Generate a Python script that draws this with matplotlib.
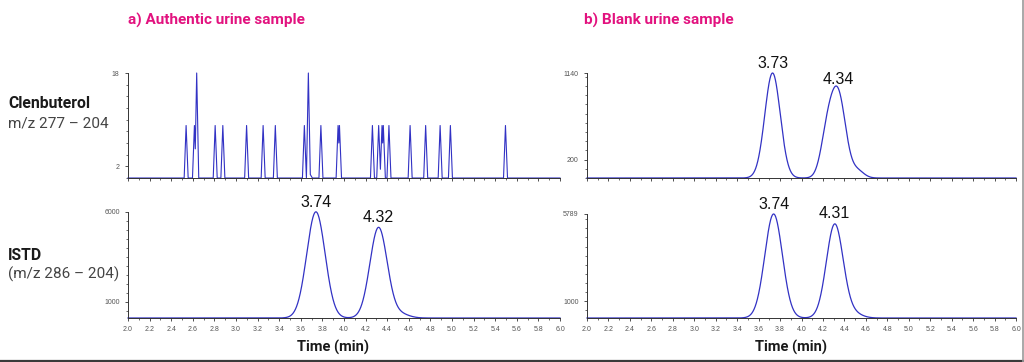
import numpy as np
import matplotlib.pyplot as plt
from matplotlib.ticker import MultipleLocator, FixedLocator
from matplotlib.lines import Line2D

# --- data ---
# a) authentic sample, clenbuterol transition: isolated noise spikes
spike_rt = [2.538, 2.615, 2.636, 2.807, 2.878, 3.098, 3.251, 3.364, 3.633,
            3.670, 3.688, 3.786, 3.945, 3.958, 4.263, 4.321, 4.352, 4.364,
            4.416, 4.612, 4.756, 4.890, 4.985, 5.495]
spike_height = [9, 9, 18, 9, 9, 9, 9, 9, 9,
                18, 0.6, 9, 9, 9, 9, 9, 9, 9,
                9, 9, 9, 9, 9, 9]

# a) authentic sample, ISTD
a_istd_rt = [3.74, 4.32, 4.52]
a_istd_height = [5900, 5030, 220]
a_istd_sigma = [0.085, 0.080, 0.08]
a_istd_base = 110

# b) blank sample, clenbuterol
b_clen_rt = [3.73, 4.24, 4.345, 4.52]
b_clen_height = [1140, 450, 870, 80]
b_clen_sigma = [0.072, 0.06, 0.068, 0.06]
b_clen_base = 0

# b) blank sample, ISTD
b_istd_rt = [3.74, 4.31, 4.48]
b_istd_height = [5720, 5150, 250]
b_istd_sigma = [0.082, 0.078, 0.08]
b_istd_base = 70

labels_a = [("3.74", 3.74, 6000), ("4.32", 4.32, 5140)]
labels_b_top = [("3.73", 3.73, 1140), ("4.34", 4.34, 963)]
labels_b_bot = [("3.74", 3.74, 5789), ("4.31", 4.31, 5278)]

t = np.linspace(2.0, 6.0, 4001)


def gauss_sum(rts, heights, sigmas, base):
    y = np.full_like(t, float(base))
    for c, h, s in zip(rts, heights, sigmas):
        y += h * np.exp(-0.5 * ((t - c) / s) ** 2)
    return y


def spikes(rts, heights, w=0.018):
    y = np.zeros_like(t)
    for c, h in zip(rts, heights):
        y = np.maximum(y, h * np.clip(1 - np.abs(t - c) / w, 0, None))
    return y


line_color = '#3232c4'
tick_color = '#555555'
magenta = '#e2127f'
narrow = ['Roboto', 'DejaVu Sans']

fig = plt.figure(figsize=(10.24, 3.62), dpi=100)
W, H = 1024.0, 362.0


def make_ax(x0, x1, ytop, ybot):
    ax = fig.add_axes([x0 / W, 1 - ybot / H, (x1 - x0) / W, (ybot - ytop) / H])
    ax.spines['top'].set_visible(False)
    ax.spines['right'].set_visible(False)
    for s in ('left', 'bottom'):
        ax.spines[s].set_linewidth(0.7)
        ax.spines[s].set_color('#333333')
    ax.set_xlim(2.0, 6.0)
    ax.xaxis.set_major_locator(MultipleLocator(0.2))
    ax.xaxis.set_minor_locator(MultipleLocator(0.1))
    ax.tick_params(which='major', length=2, width=0.6, colors='#333333',
                   labelsize=5, labelcolor=tick_color, pad=4)
    ax.tick_params(which='minor', length=1.2, width=0.5, colors='#333333')
    return ax


ax1 = make_ax(128, 560, 73, 178)
ax2 = make_ax(128, 560, 212, 318)
ax3 = make_ax(587, 1016, 73, 178)
ax4 = make_ax(587, 1016, 214, 318)

ax1.plot(t, spikes(spike_rt, spike_height), color=line_color, lw=0.8, clip_on=False)
ax1.set_ylim(0, 18)
ax1.yaxis.set_major_locator(FixedLocator([2, 18]))
ax1.yaxis.set_minor_locator(MultipleLocator(2))

ax2.plot(t, gauss_sum(a_istd_rt, a_istd_height, a_istd_sigma, a_istd_base),
         color=line_color, lw=0.9, clip_on=False)
ax2.set_ylim(110, 6000)
ax2.yaxis.set_major_locator(FixedLocator([1000, 6000]))
ax2.yaxis.set_minor_locator(MultipleLocator(500))

ax3.plot(t, gauss_sum(b_clen_rt, b_clen_height, b_clen_sigma, b_clen_base),
         color=line_color, lw=0.9, clip_on=False)
ax3.set_ylim(0, 1140)
ax3.yaxis.set_major_locator(FixedLocator([200, 1140]))
ax3.yaxis.set_minor_locator(MultipleLocator(100))

ax4.plot(t, gauss_sum(b_istd_rt, b_istd_height, b_istd_sigma, b_istd_base),
         color=line_color, lw=0.9, clip_on=False)
ax4.set_ylim(70, 5789)
ax4.yaxis.set_major_locator(FixedLocator([1000, 5789]))
ax4.yaxis.set_minor_locator(MultipleLocator(500))

for ax in (ax1, ax3):
    ax.tick_params(axis='x', which='both', labelbottom=False)

for ax in (ax1, ax2, ax3, ax4):
    for lab in ax.get_xticklabels() + ax.get_yticklabels():
        lab.set_family(['Liberation Sans', 'DejaVu Sans'])

for ax, labs in ((ax2, labels_a), (ax3, labels_b_top), (ax4, labels_b_bot)):
    for txt, x, y in labs:
        ax.annotate(txt, xy=(x, y), xytext=(0, 1.5), textcoords='offset points',
                    ha='center', va='bottom', fontsize=11.5,
                    family=['Liberation Sans', 'DejaVu Sans'], color='#111111')

for ax in (ax2, ax4):
    ax.set_xlabel('Time (min)', fontsize=10.5, fontweight='bold',
                  family=narrow, color='#1a1a1a')
    ax.xaxis.set_label_coords(0.475, -0.21)

# titles
fig.text(128 / W, 1 - 20 / H, 'a) Authentic urine sample', color=magenta,
         fontsize=11, fontweight='bold', family=narrow, va='center', ha='left')
fig.text(584 / W, 1 - 20 / H, 'b) Blank urine sample', color=magenta,
         fontsize=11, fontweight='bold', family=narrow, va='center', ha='left')

# row labels
fig.text(8 / W, 1 - 103 / H, 'Clenbuterol', fontsize=11.3, fontweight='bold',
         family=narrow, color='#1a1a1a', va='center')
fig.text(8 / W, 1 - 123 / H, 'm/z 277 \u2013 204', fontsize=11,
         family=narrow, color='#444444', va='center')
fig.text(8 / W, 1 - 256 / H, 'ISTD', fontsize=11.3, fontweight='bold',
         family=narrow, color='#1a1a1a', va='center')
fig.text(8 / W, 1 - 274 / H, '(m/z 286 \u2013 204)', fontsize=11,
         family=narrow, color='#444444', va='center')

# frame edges
fig.add_artist(Line2D([0, 1], [0.6 / H, 0.6 / H], color='#3a3a3a', lw=1.6))
fig.add_artist(Line2D([1022.5 / W, 1022.5 / W], [0, 1], color='#9a9a9a', lw=1.2))

plt.savefig('out.png', dpi=100)
plt.close()
